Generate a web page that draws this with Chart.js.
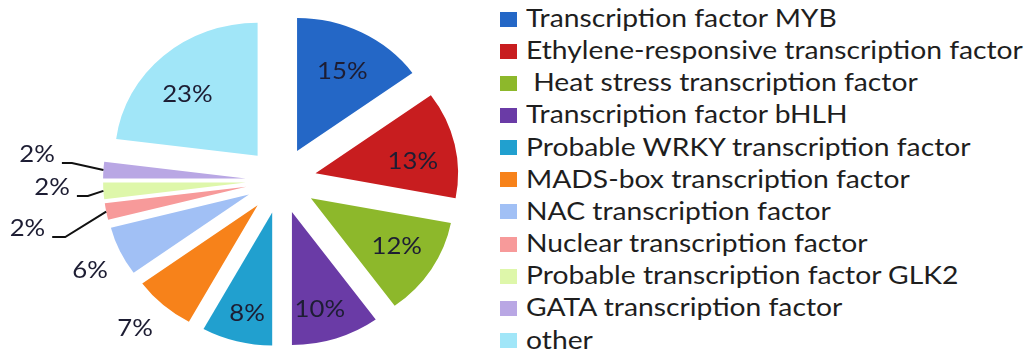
<!DOCTYPE html>
<html>
<head>
<meta charset="utf-8">
<script src="https://cdn.jsdelivr.net/npm/chart.js@4.4.1/dist/chart.umd.min.js"></script>
<style>
  html, body { margin: 0; padding: 0; background: #fff; }
  #wrap { position: relative; width: 1027px; height: 359px; overflow: hidden; }
  #pie { position: absolute; left: 0; top: 0; width: 500px; height: 359px; }
  .row {
    position: absolute; left: 500px; height: 32px;
    display: flex; align-items: center; white-space: pre;
    font-family: Lato, "Open Sans", sans-serif; font-size: 25px; color: #1e1e1e;
  }
  .sw { width: 17px; height: 15px; margin-right: 9px; flex: none; }
  .row span.t { position: relative; top: -2px; display: inline-block; transform: scaleX(1.13); transform-origin: 0 50%; }
</style>
</head>
<body>
<div id="wrap">
  <div id="pie"><canvas id="c"></canvas></div>
  <div id="legend"></div>
</div>
<script>
// Transcription factor families and their share of the total (%)
const categories = [
  "Transcription factor MYB",
  "Ethylene-responsive transcription factor",
  " Heat stress transcription factor",
  "Transcription factor bHLH",
  "Probable WRKY transcription factor",
  "MADS-box transcription factor",
  "NAC transcription factor",
  "Nuclear transcription factor",
  "Probable transcription factor GLK2",
  "GATA transcription factor",
  "other"
];
const shares = [15, 13, 12, 10, 8, 7, 6, 2, 2, 2, 23];
const colors = [
  "#2467c6", "#c81d1f", "#8db82b", "#6a3ba6", "#21a0cf", "#f7821a",
  "#a1c0f5", "#f79a9a", "#def7aa", "#b9a7e4", "#a1e6f8"
];

// geometry of the exploded pie
const SX = 1.072;  // horizontal stretch of the pie
const GAP = 33;    // distance each slice is pulled out from the centre
const R = 133;     // slice radius
const FONT_PX = 24;

// label placement per slice: [distance as a fraction of the radius, position across the slice 0..1]
const labelPlace = [
  [0.686, 0.51], [0.69, 0.59], [0.70, 0.46], [0.75, 0.58], [0.77, 0.46],
  [1.256, 0.57], [1.25, 0.42], null, null, null, [0.68, 0.44]
];

// leader lines for the thin slices: elbow offset from the slice edge, then a short run left
const leaders = {
  7: { elbow: [-41, 25.5], run: 13 },
  8: { elbow: [-15.5, 5], run: 11 },
  9: { elbow: [-31.5, -7], run: 10 }
};

function pieCentre(chart) {
  const a = chart.chartArea;
  return { cx: (a.left + a.right) / 2, cy: (a.top + a.bottom) / 2 };
}

function drawLabels(chart) {
  const ctx = chart.ctx;
  const { cx } = pieCentre(chart);
  const arcs = chart.getDatasetMeta(0).data;
  ctx.save();
  ctx.font = FONT_PX + "px Lato, 'Open Sans', sans-serif";
  ctx.fillStyle = "#1d1d33";
  ctx.strokeStyle = "#111";
  ctx.lineWidth = 2;
  ctx.textBaseline = "alphabetic";
  arcs.forEach((arc, i) => {
    const mid = (arc.startAngle + arc.endAngle) / 2;
    const tcx = cx + (arc.x - cx) * SX;   // slice tip on screen
    const tcy = arc.y;
    const text = shares[i] + "%";
    const lead = leaders[i];
    if (lead) {
      const ax = tcx + Math.cos(mid) * R * SX, ay = tcy + Math.sin(mid) * R;
      const ex = ax + lead.elbow[0], ey = ay + lead.elbow[1];
      const tx = ex - lead.run;
      ctx.beginPath();
      ctx.moveTo(ax, ay);
      ctx.lineTo(ex, ey);
      ctx.lineTo(tx, ey);
      ctx.stroke();
      ctx.save();
      ctx.translate(tx - 7, ey - 1);
      ctx.scale(SX, 1);
      ctx.textAlign = "right";
      ctx.fillText(text, 0, 0);
      ctx.restore();
    } else {
      const [frac, across] = labelPlace[i];
      const ang = arc.startAngle + (arc.endAngle - arc.startAngle) * across;
      const r = R * frac;
      const px = tcx + Math.cos(ang) * r * SX, py = tcy + Math.sin(ang) * r;
      ctx.save();
      ctx.translate(px, py + FONT_PX * 0.36);
      ctx.scale(SX, 1);
      ctx.textAlign = "center";
      ctx.fillText(text, 0, 0);
      ctx.restore();
    }
  });
  ctx.restore();
}

const explodedPie = {
  id: "explodedPie",
  afterDatasetUpdate(chart) {
    // pull every slice out from the centre along its mid angle
    const { cx, cy } = pieCentre(chart);
    chart.getDatasetMeta(0).data.forEach(arc => {
      const mid = (arc.startAngle + arc.endAngle) / 2;
      arc.x = cx + Math.cos(mid) * GAP;
      arc.y = cy + Math.sin(mid) * GAP;
    });
  },
  beforeDatasetsDraw(chart) {
    const { cx, cy } = pieCentre(chart);
    const ctx = chart.ctx;
    ctx.save();
    ctx.translate(cx, cy);
    ctx.scale(SX, 1);
    ctx.translate(-cx, -cy);
  },
  afterDatasetsDraw(chart) {
    chart.ctx.restore();
    drawLabels(chart);
  }
};

new Chart(document.getElementById("c"), {
  type: "pie",
  data: {
    labels: categories,
    datasets: [{
      data: shares,
      backgroundColor: colors,
      borderWidth: 0,
      offset: 0,
      hoverOffset: 0,
      clip: false
    }]
  },
  options: {
    responsive: true,
    maintainAspectRatio: false,
    animation: false,
    events: [],
    radius: R,
    layout: { padding: { left: 62, right: 0, top: 2, bottom: 0 } },
    plugins: { legend: { display: false }, tooltip: { enabled: false } }
  },
  plugins: [explodedPie]
});

// legend column on the right
const legend = document.getElementById("legend");
categories.forEach((name, i) => {
  const row = document.createElement("div");
  row.className = "row";
  row.style.top = (19 + i * 32.15 - 16) + "px";
  const sw = document.createElement("span");
  sw.className = "sw";
  sw.style.background = colors[i];
  const t = document.createElement("span");
  t.className = "t";
  t.textContent = name;
  row.appendChild(sw);
  row.appendChild(t);
  legend.appendChild(row);
});
</script>
</body>
</html>
